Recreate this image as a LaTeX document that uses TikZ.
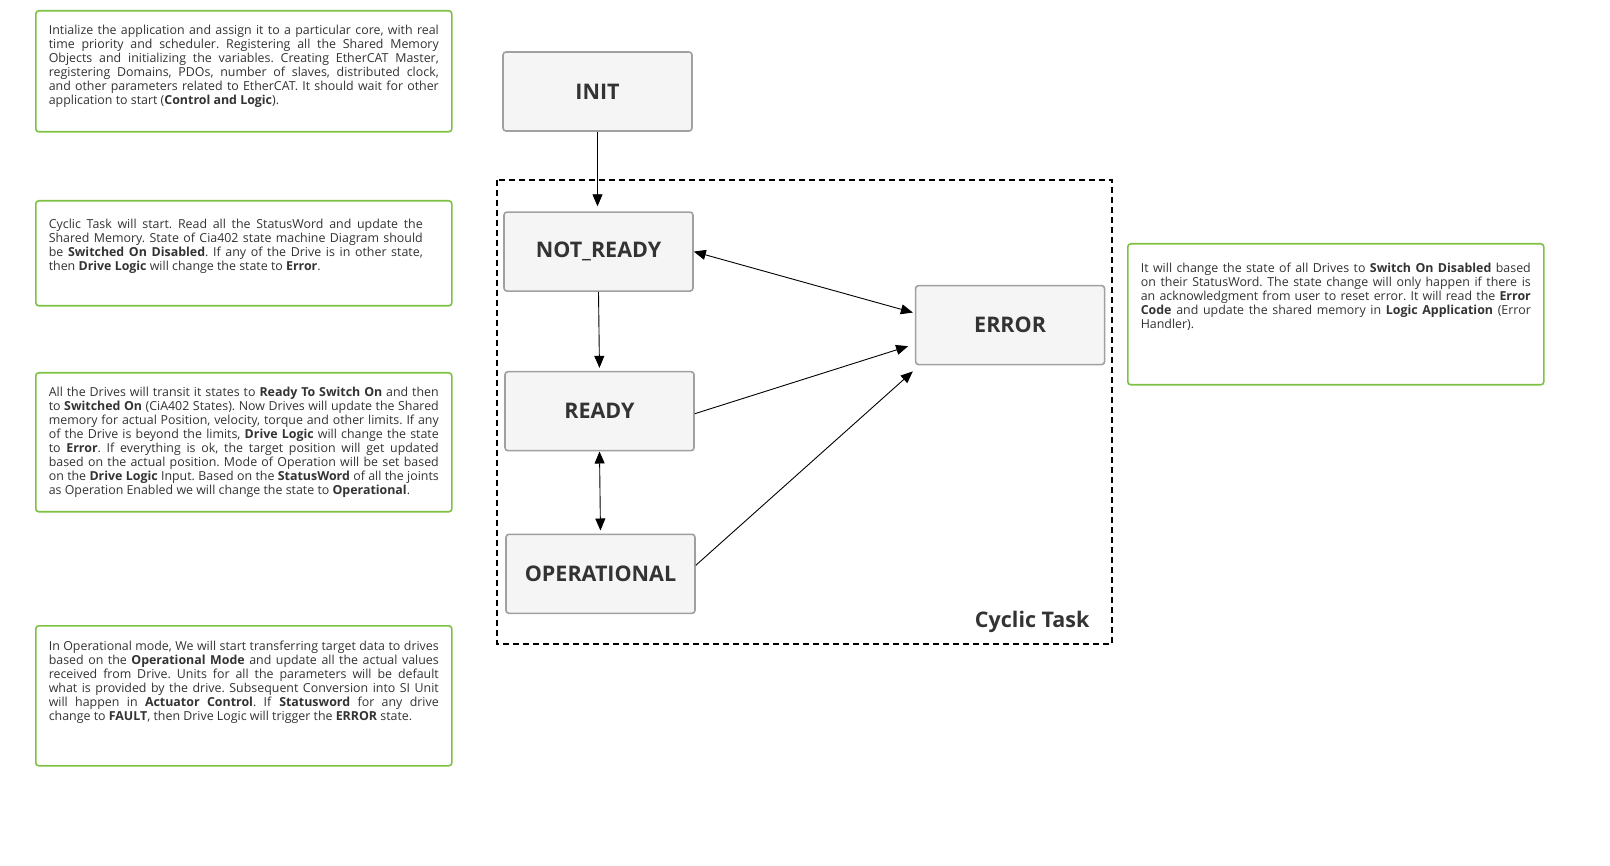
\documentclass[tikz,border=0pt]{standalone}
\usepackage{fontspec}
\setmainfont{Open Sans}
\frenchspacing
\usepackage{tikz}
\usetikzlibrary{positioning,calc,arrows.meta}
\definecolor{notegreen}{RGB}{125,194,66}
\definecolor{statefill}{RGB}{245,245,245}
\definecolor{stateline}{RGB}{160,160,160}
\definecolor{textgray}{RGB}{51,51,51}
\tikzstyle{line} = [draw,line width=0.9pt,-{Triangle[length=12pt,width=10pt]}]
\newcommand{\notetext}[3]{\parbox[b][#1][t]{390pt}{\vspace*{#2}#3}}

\begin{document}
\begin{tikzpicture}[x=1pt,y=-1pt,node distance=79.5pt,
            state/.style = {draw=stateline, fill=statefill, line width=1.6pt,
              rounded corners=3pt, minimum width=189pt, minimum height=79pt,
              text=textgray, font=\fontsize{21.5}{25}\selectfont\bfseries},
            note/.style = {draw=notegreen, line width=1.6pt, rounded corners=3pt,
              inner xsep=13pt, inner ysep=0pt, anchor=north west,
              text=textgray, font=\fontsize{12.4}{14}\selectfont}]
            \fill[white] (0,0) rectangle (1610,866);
            \useasboundingbox (0,0) rectangle (1610,866);
            \node[note] (note1) at (35,10) {\notetext{121pt}{14pt}{Intialize the application and assign it to a particular core, with real\linebreak
              time priority and scheduler. Registering all the Shared Memory\linebreak
              Objects and initializing the variables. Creating EtherCAT Master,\linebreak
              registering Domains, PDOs, number of slaves, distributed clock,\linebreak
              and other parameters related to EtherCAT. It should wait for other\linebreak
              application to start (\textbf{Control and Logic}).}};
            \node[note] (note2) at (35,200) {\notetext{105pt}{18pt}{\parbox[t]{374pt}{Cyclic Task will start. Read all the StatusWord and update the\linebreak
              Shared Memory. State of Cia402 state machine Diagram should\linebreak
              be \textbf{Switched On Disabled}. If any of the Drive is in other state,\linebreak
              then \textbf{Drive Logic} will change the state to \textbf{Error}.}}};
            \node[note] (note3) at (35,372) {\notetext{139pt}{14pt}{All the Drives will transit it states to \textbf{Ready To Switch On} and then\linebreak
              to \textbf{Switched On} (CiA402 States). Now Drives will update the Shared\linebreak
              memory for actual Position, velocity, torque and other limits. If any\linebreak
              of the Drive is beyond the limits, \textbf{Drive Logic} will change the state\linebreak
              to \textbf{Error}. If everything is ok, the target position will get updated\linebreak
              based on the actual position. Mode of Operation will be set based\linebreak
              on the \textbf{Drive Logic} Input. Based on the \textbf{StatusWord} of all the joints\linebreak
              as Operation Enabled we will change the state to \textbf{Operational}.}};
            \node[note] (note4) at (35,625) {\notetext{140pt}{15pt}{In Operational mode, We will start transferring target data to drives\linebreak
              based on the \textbf{Operational Mode} and update all the actual values\linebreak
              received from Drive. Units for all the parameters will be default\linebreak
              what is provided by the drive. Subsequent Conversion into SI Unit\linebreak
              will happen in \textbf{Actuator Control}. If \textbf{Statusword} for any drive\linebreak
              change to \textbf{FAULT}, then Drive Logic will trigger the \textbf{ERROR} state.}};
            \node[note] (note5) at (1127,243) {\notetext{141pt}{19pt}{It will change the state of all Drives to \textbf{Switch On Disabled} based\linebreak
              on their StatusWord. The state change will only happen if there is\linebreak
              an acknowledgment from user to reset error. It will read the \textbf{Error}\linebreak
              \textbf{Code} and update the shared memory in \textbf{Logic Application} (Error\linebreak
              Handler).}};
            \node[state] (init) at (597.5,91.5) {INIT};
            \node[state] (notready) [below = of init, xshift=1pt] {NOT\_READY};
            \node[state] (ready) [node distance=79pt, below = of notready, xshift=1pt] {READY};
            \node[state] (operational) [node distance=82pt, below = of ready, xshift=1pt] {OPERATIONAL};
            \node[state] (error) [right = 221pt of notready, yshift=-73.5pt] {ERROR};
            \draw[line width=1.8pt, dash pattern=on 6pt off 4pt] (497,180) rectangle (1112,644);
            \node[anchor=base east, text=textgray, font=\fontsize{21.5}{25}\selectfont\bfseries] (cyclic) at (1093,627) {Cyclic Task};
            \path [line, shorten >=5pt] (init.south) -- (init.south |- notready.north);
            \path [line, shorten >=3pt] (notready.south) -- (ready.north);
            \path [line, {Triangle[length=12pt,width=10pt]}-{Triangle[length=12pt,width=10pt]}, shorten >=3pt] (ready.south) -- (operational.north);
            \path [line, {Triangle[length=12pt,width=10pt]}-{Triangle[length=12pt,width=10pt]}, shorten >=2pt] (notready.east) -- ([yshift=12pt]error.west);
            \path [line, shorten >=7pt] ([yshift=-2.5pt]ready.east) -- ([yshift=-19pt]error.west);
            \path [line] ([yshift=8.5pt]operational.east) -- ([xshift=-2pt,yshift=-6pt]error.south west);
            \end{tikzpicture}
\end{document}
